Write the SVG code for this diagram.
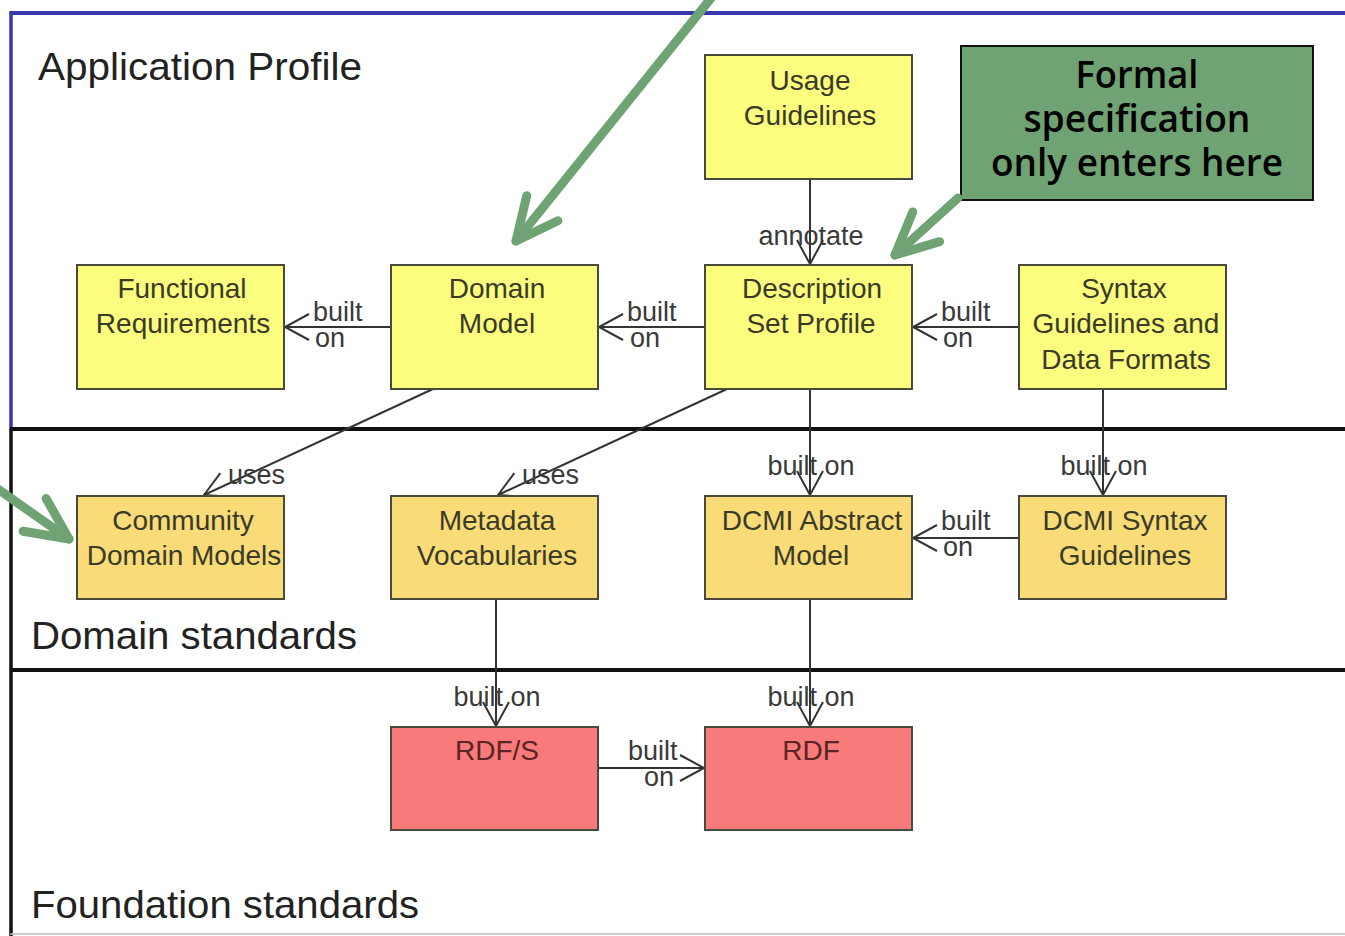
<svg xmlns="http://www.w3.org/2000/svg" width="1345" height="936" viewBox="0 0 1345 936">
<style>
  .box { stroke: #4a4a3a; stroke-width: 2; }
  .ap { fill: #fcfc7e; }
  .ds { fill: #f9dc78; }
  .fs { fill: #f97a7a; }
  .t { font-family: "Liberation Sans", Arial, sans-serif; font-size: 28px; fill: #3a3a28; text-anchor: middle; }
  .tr { fill: #5a2424; }
  .lbl { font-family: "Liberation Sans", Arial, sans-serif; font-size: 27px; fill: #3a3a3a; }
  .mid { text-anchor: middle; }
  .sec { font-family: "Liberation Sans", Arial, sans-serif; font-size: 39px; fill: #222; }
  .conn { stroke: #333; stroke-width: 2; fill: none; marker-end: url(#open); }
  .green { stroke: #6fa374; stroke-width: 9; fill: none; stroke-linecap: round; stroke-linejoin: round; marker-end: url(#garrow); }
  .callout-t { font-family: "Open Sans", "Noto Sans", sans-serif; font-size: 37px; font-weight: 600; fill: #000; text-anchor: middle; }
</style>
<defs>
  <marker id="open" markerUnits="userSpaceOnUse" viewBox="-30 -20 34 40" refX="0" refY="0" markerWidth="34" markerHeight="40" orient="auto" overflow="visible">
    <path d="M-24 -13 L0 0 L-24 13" fill="none" stroke="#333" stroke-width="2"/>
  </marker>
  <marker id="garrow" markerUnits="userSpaceOnUse" viewBox="-50 -30 60 60" refX="0" refY="0" markerWidth="60" markerHeight="60" orient="auto" overflow="visible">
    <path d="M-42 -20 L0 0 L-42 20" fill="none" stroke="#6fa374" stroke-width="9" stroke-linecap="round" stroke-linejoin="round"/>
  </marker>
</defs>
<rect width="1345" height="936" fill="#fff"/>
<g id="frame">
  <line x1="10" y1="13" x2="1345" y2="13" stroke="#3636ad" stroke-width="4"/>
  <line x1="11" y1="11" x2="11" y2="428" stroke="#3636ad" stroke-width="3.5"/>
  <line x1="11" y1="428" x2="11" y2="936" stroke="#111" stroke-width="3.5"/>
  <line x1="10" y1="429" x2="1345" y2="429" stroke="#111" stroke-width="4"/>
  <line x1="10" y1="670" x2="1345" y2="670" stroke="#111" stroke-width="4"/>
  <line x1="10" y1="934" x2="1345" y2="934" stroke="#bbb" stroke-width="1.5"/>
  <text class="sec" x="38" y="80" textLength="324" lengthAdjust="spacingAndGlyphs">Application Profile</text>
  <text class="sec" x="31" y="649" textLength="326" lengthAdjust="spacingAndGlyphs">Domain standards</text>
  <text class="sec" x="31" y="918" textLength="388" lengthAdjust="spacingAndGlyphs">Foundation standards</text>
</g>
<g id="connectors">
  <path class="conn" d="M810 179 V264"/>
  <path class="conn" d="M391 327 H285"/>
  <path class="conn" d="M705 327 H599"/>
  <path class="conn" d="M1019 327 H913"/>
  <path class="conn" d="M433 389 L204 495"/>
  <path class="conn" d="M727 389 L498 495"/>
  <path class="conn" d="M810 389 V495"/>
  <path class="conn" d="M1103 389 V495"/>
  <path class="conn" d="M1019 538 H913"/>
  <path class="conn" d="M496 599 V726"/>
  <path class="conn" d="M810 599 V726"/>
  <path class="conn" d="M599 768 H704"/>
  <text class="lbl mid" x="811" y="245">annotate</text>
  <text class="lbl" x="313" y="321">built</text>
  <text class="lbl" x="315" y="347">on</text>
  <text class="lbl" x="627" y="321">built</text>
  <text class="lbl" x="630" y="347">on</text>
  <text class="lbl" x="941" y="321">built</text>
  <text class="lbl" x="943" y="347">on</text>
  <text class="lbl" x="941" y="530">built</text>
  <text class="lbl" x="943" y="556">on</text>
  <text class="lbl" x="628" y="760">built</text>
  <text class="lbl" x="644" y="786">on</text>
  <text class="lbl" x="228" y="484">uses</text>
  <text class="lbl" x="522" y="484">uses</text>
  <text class="lbl mid" x="811" y="475">built on</text>
  <text class="lbl mid" x="1104" y="475">built on</text>
  <text class="lbl mid" x="497" y="706">built on</text>
  <text class="lbl mid" x="811" y="706">built on</text>
</g>
<g id="usage-guidelines">
  <rect class="box ap" x="705" y="55" width="207" height="124"/>
  <text class="t" x="810" y="90">Usage</text>
  <text class="t" x="810" y="125">Guidelines</text>
</g>
<g id="functional-requirements">
  <rect class="box ap" x="77" y="265" width="207" height="124"/>
  <text class="t" x="182" y="298">Functional</text>
  <text class="t" x="183" y="333">Requirements</text>
</g>
<g id="domain-model">
  <rect class="box ap" x="391" y="265" width="207" height="124"/>
  <text class="t" x="497" y="298">Domain</text>
  <text class="t" x="497" y="333">Model</text>
</g>
<g id="description-set-profile">
  <rect class="box ap" x="705" y="265" width="207" height="124"/>
  <text class="t" x="812" y="298">Description</text>
  <text class="t" x="811" y="333">Set Profile</text>
</g>
<g id="syntax-guidelines">
  <rect class="box ap" x="1019" y="265" width="207" height="124"/>
  <text class="t" x="1124" y="298">Syntax</text>
  <text class="t" x="1126" y="333">Guidelines and</text>
  <text class="t" x="1126" y="369">Data Formats</text>
</g>
<g id="community-domain-models">
  <rect class="box ds" x="77" y="496" width="207" height="103"/>
  <text class="t" x="183" y="530">Community</text>
  <text class="t" x="184" y="565">Domain Models</text>
</g>
<g id="metadata-vocabularies">
  <rect class="box ds" x="391" y="496" width="207" height="103"/>
  <text class="t" x="497" y="530">Metadata</text>
  <text class="t" x="497" y="565">Vocabularies</text>
</g>
<g id="dcmi-abstract-model">
  <rect class="box ds" x="705" y="496" width="207" height="103"/>
  <text class="t" x="812" y="530">DCMI Abstract</text>
  <text class="t" x="811" y="565">Model</text>
</g>
<g id="dcmi-syntax-guidelines">
  <rect class="box ds" x="1019" y="496" width="207" height="103"/>
  <text class="t" x="1125" y="530">DCMI Syntax</text>
  <text class="t" x="1125" y="565">Guidelines</text>
</g>
<g id="rdfs">
  <rect class="box fs" x="391" y="727" width="207" height="103"/>
  <text class="t tr" x="497" y="760">RDF/S</text>
</g>
<g id="rdf">
  <rect class="box fs" x="705" y="727" width="207" height="103"/>
  <text class="t tr" x="811" y="760">RDF</text>
</g>
<g id="callout">
  <rect x="961" y="46" width="352" height="154" fill="#6fa374" stroke="#111" stroke-width="2"/>
  <text class="callout-t" x="1137" y="88" textLength="123" lengthAdjust="spacingAndGlyphs">Formal</text>
  <text class="callout-t" x="1137" y="132" textLength="227" lengthAdjust="spacingAndGlyphs">specification</text>
  <text class="callout-t" x="1137" y="176" textLength="292" lengthAdjust="spacingAndGlyphs">only enters here</text>
</g>
<g id="green-arrows">
  <path class="green" d="M716 -8 L516 241"/>
  <path class="green" d="M958 198 L895 255"/>
  <path class="green" d="M-8 485 L69 539"/>
</g>
</svg>
